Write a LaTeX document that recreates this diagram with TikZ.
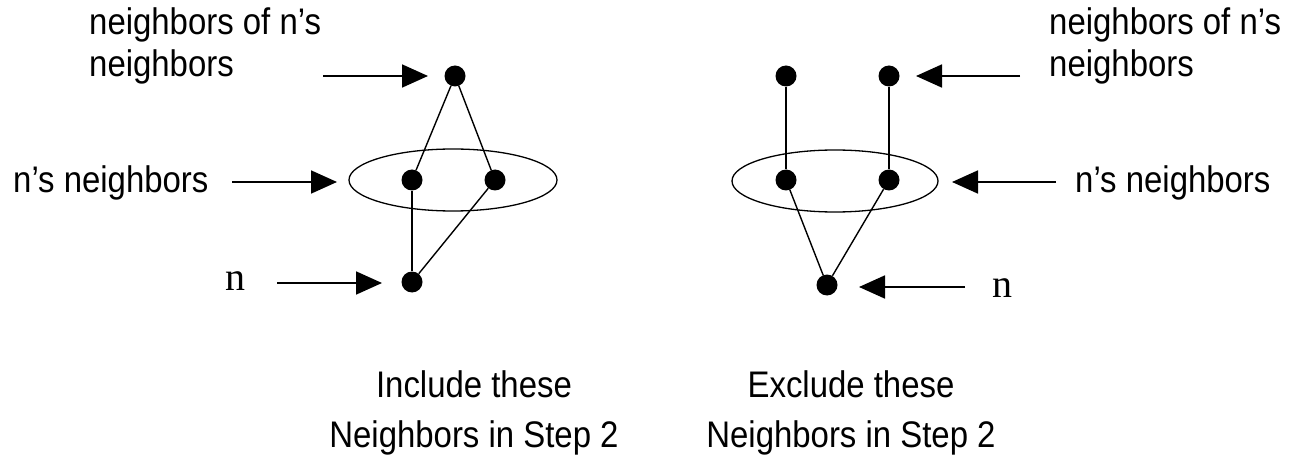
\documentclass[tikz,border=0pt]{standalone}
\usepackage{fontspec}
\setmainfont{Liberation Sans}
\newfontfamily\lblfont[FakeStretch=0.89]{Liberation Sans}
\newfontfamily\serifn{Liberation Serif}
\usetikzlibrary{arrows.meta}
\tikzset{
  dot/.style={circle,fill=black,inner sep=0pt,minimum size=21pt},
  edge/.style={line width=1.4pt},
  ptr/.style={line width=1.8pt,-{Triangle[length=26pt,width=23pt]}},
  lbl/.style={inner sep=0pt,font=\lblfont\fontsize{37}{42}\selectfont,align=left},
  nlbl/.style={inner sep=0pt,font=\serifn\fontsize{40}{40}\selectfont},
  captext/.style={inner sep=0pt,font=\lblfont\fontsize{37}{50}\selectfont,align=center},
  ring/.style={draw,line width=1.3pt}
}
\begin{document}
\begin{tikzpicture}[x=1pt,y=-1pt]
\useasboundingbox (0,0) rectangle (1304,457);
% left graph
\draw[ring] (453,180) ellipse [x radius=104, y radius=31];
\node[dot] (Lt) at (455,76) {};
\node[dot] (Lm1) at (412,180) {};
\node[dot] (Lm2) at (495,180) {};
\node[dot] (Lb) at (412,282) {};
\draw[edge] (Lt) -- (Lm1);
\draw[edge] (Lt) -- (Lm2);
\draw[edge] (Lb) -- (Lm1);
\draw[edge] (Lb) -- (Lm2);
% right graph
\draw[ring] (835,181) ellipse [x radius=103, y radius=31];
\node[dot] (Rt1) at (786,76) {};
\node[dot] (Rt2) at (889,76) {};
\node[dot] (Rm1) at (786,180) {};
\node[dot] (Rm2) at (889,180) {};
\node[dot] (Rb) at (827,285) {};
\draw[edge] (Rt1) -- (Rm1);
\draw[edge] (Rt2) -- (Rm2);
\draw[edge] (Rb) -- (Rm1);
\draw[edge] (Rb) -- (Rm2);
% left labels
\node[lbl,anchor=base west] (LtopL) at (89,77) {neighbors of n’s\\neighbors};
\node[lbl,anchor=base west] (LmidL) at (13,193) {n’s neighbors};
\node[nlbl,anchor=base west] (LnL) at (225,290) {n};
\coordinate (a1s) at (323,76);
\coordinate (a1e) at (428,76);
\coordinate (a2s) at (232,182);
\coordinate (a2e) at (337,182);
\coordinate (a3s) at (277,283);
\coordinate (a3e) at (382,283);
\draw[ptr] (a1s) -- (a1e);
\draw[ptr] (a2s) -- (a2e);
\draw[ptr] (a3s) -- (a3e);
% right labels
\node[lbl,anchor=base west] (RtopL) at (1049,77) {neighbors of n’s\\neighbors};
\node[lbl,anchor=base west] (RmidL) at (1075,193) {n’s neighbors};
\node[nlbl,anchor=base west] (RnL) at (992,297) {n};
\coordinate (b1s) at (1020,76);
\coordinate (b1e) at (916,76);
\coordinate (b2s) at (1056,182);
\coordinate (b2e) at (952,182);
\coordinate (b3s) at (965,287);
\coordinate (b3e) at (859,287);
\draw[ptr] (b1s) -- (b1e);
\draw[ptr] (b2s) -- (b2e);
\draw[ptr] (b3s) -- (b3e);
% captions
\node[captext,anchor=base] (capL) at (474,447) {Include these\\Neighbors in Step 2};
\node[captext,anchor=base] (capR) at (851,447) {Exclude these\\Neighbors in Step 2};
\end{tikzpicture}
\end{document}
